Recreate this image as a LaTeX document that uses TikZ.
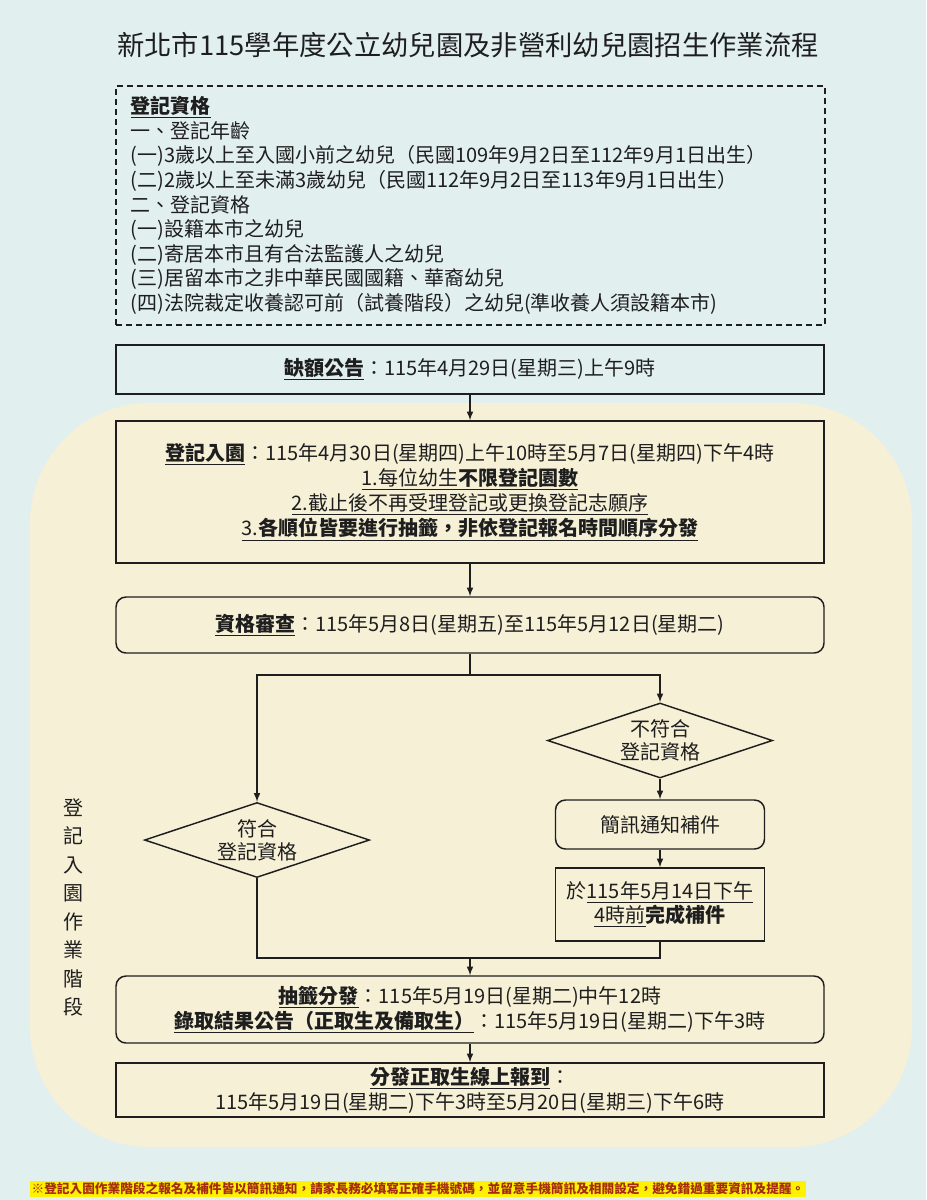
\documentclass[tikz,border=0pt]{standalone}
\usepackage{fontspec}
\setmainfont{Noto Sans CJK TC}
\usetikzlibrary{arrows,shapes.geometric}
\definecolor{bgblue}{RGB}{226,239,239}
\definecolor{panelyel}{RGB}{245,240,214}
\definecolor{ink}{RGB}{30,30,30}
\definecolor{notered}{RGB}{165,42,20}

\begin{document}
\begin{tikzpicture}[x=0.75pt,y=-0.75pt,
  every node/.style={text=ink, font=\fontsize{15}{18.75}\selectfont},
  plainbox/.style={draw=ink, line width=1.1pt, minimum width=531pt, inner sep=0pt, align=center},
  softbox/.style={plainbox, rounded corners=7.5pt},
  choice/.style={diamond, draw=ink, line width=1.1pt, shape aspect=3, minimum width=168.75pt,
    minimum height=56.25pt, inner sep=0pt, align=center, font=\fontsize{15}{17.25}\selectfont},
  flow/.style={draw=ink, line width=1.2pt, -latex},
  link/.style={draw=ink, line width=1.2pt}]
  \useasboundingbox (0,0) rectangle (926,1200);
  \fill[bgblue] (0,0) rectangle (926,1200);
  \fill[panelyel, rounded corners=90pt] (30,403) rectangle (912,1147);

  \node[font=\fontsize{20.5}{24}\selectfont] (title) at (468,45) {新北市115學年度公立幼兒園及非營利幼兒園招生作業流程};

  \node[draw=ink, line width=1.1pt, dash pattern=on 4.5pt off 3pt, minimum width=531.75pt, minimum height=179.25pt,
    inner xsep=10.5pt, text width=510pt, align=left, font=\fontsize{15}{18.45}\selectfont] (rules) at (470.5,205.5)
  {\textbf{\underline{登記資格}}\\
   一、登記年齡\\
   (一)3歲以上至入國小前之幼兒（民國109年9月2日至112年9月1日出生）\\
   (二)2歲以上至未滿3歲幼兒（民國112年9月2日至113年9月1日出生）\\
   二、登記資格\\
   (一)設籍本市之幼兒\\
   (二)寄居本市且有合法監護人之幼兒\\
   (三)居留本市之非中華民國國籍、華裔幼兒\\
   (四)法院裁定收養認可前（試養階段）之幼兒(準收養人須設籍本市)};

  \node[plainbox, fill=bgblue, minimum height=36.75pt] (gap) at (470,369.5)
  {\textbf{\underline{缺額公告}}：115年4月29日(星期三)上午9時};

  \node[plainbox, minimum height=106.5pt] (reg) at (470,492)
  {\textbf{\underline{登記入園}}：115年4月30日(星期四)上午10時至5月7日(星期四)下午4時\\
   \underline{1.每位幼生\textbf{不限登記園數}}\\
   \underline{2.截止後不再受理登記或更換登記志願序}\\
   \underline{3.\textbf{各順位皆要進行抽籤，非依登記報名時間順序分發}}};

  \node[softbox, minimum height=42pt] (check) at (470,625)
  {\textbf{\underline{資格審查}}：115年5月8日(星期五)至115年5月12日(星期二)};

  \coordinate (split) at (470,675);
  \node[choice] (no) at (660,740.5) {不符合\\登記資格};
  \node[choice] (yes) at (257,840) {符合\\登記資格};
  \node[softbox, minimum width=156.75pt, minimum height=36.75pt] (sms) at (660,824.5) {簡訊通知補件};
  \node[plainbox, minimum width=156.75pt, minimum height=54.75pt, font=\fontsize{15}{18}\selectfont] (fix) at (660,904.5)
  {於\underline{115年5月14日下午}\\\underline{4時前}\textbf{完成補件}};
  \coordinate (merge) at (470,958);

  \node[softbox, minimum height=50.25pt] (lot) at (470,1009.5)
  {\textbf{\underline{抽籤分發}}：115年5月19日(星期二)中午12時\\
   \textbf{\underline{錄取結果公告（正取生及備取生）}}：115年5月19日(星期二)下午3時};

  \node[plainbox, minimum height=40.5pt] (enrol) at (470,1090)
  {\textbf{\underline{分發正取生線上報到}}：\\
   115年5月19日(星期二)下午3時至5月20日(星期三)下午6時};

  \node[font=\fontsize{15}{21.4}\selectfont, align=center] (stage) at (73,907.5)
  {登\\記\\入\\園\\作\\業\\階\\段};

  \node[fill=yellow, text=notered, font=\fontsize{9.5}{11}\selectfont\bfseries, inner xsep=1pt, inner ysep=1.5pt,
    anchor=west] (note) at (30,1189)
  {※登記入園作業階段之報名及補件皆以簡訊通知，請家長務必填寫正確手機號碼，並留意手機簡訊及相關設定，避免錯過重要資訊及提醒。};

  \draw[flow] (gap) -- (reg);
  \draw[flow] (reg) -- (check);
  \draw[link] (check) -- (split);
  \draw[flow] (split) -| (yes);
  \draw[flow] (split) -| (no);
  \draw[flow] (no) -- (sms);
  \draw[flow] (sms) -- (fix);
  \draw[link] (yes) |- (merge);
  \draw[link] (fix) |- (merge);
  \draw[flow] (merge) -- (lot);
  \draw[flow] (lot) -- (enrol);
\end{tikzpicture}
\end{document}
